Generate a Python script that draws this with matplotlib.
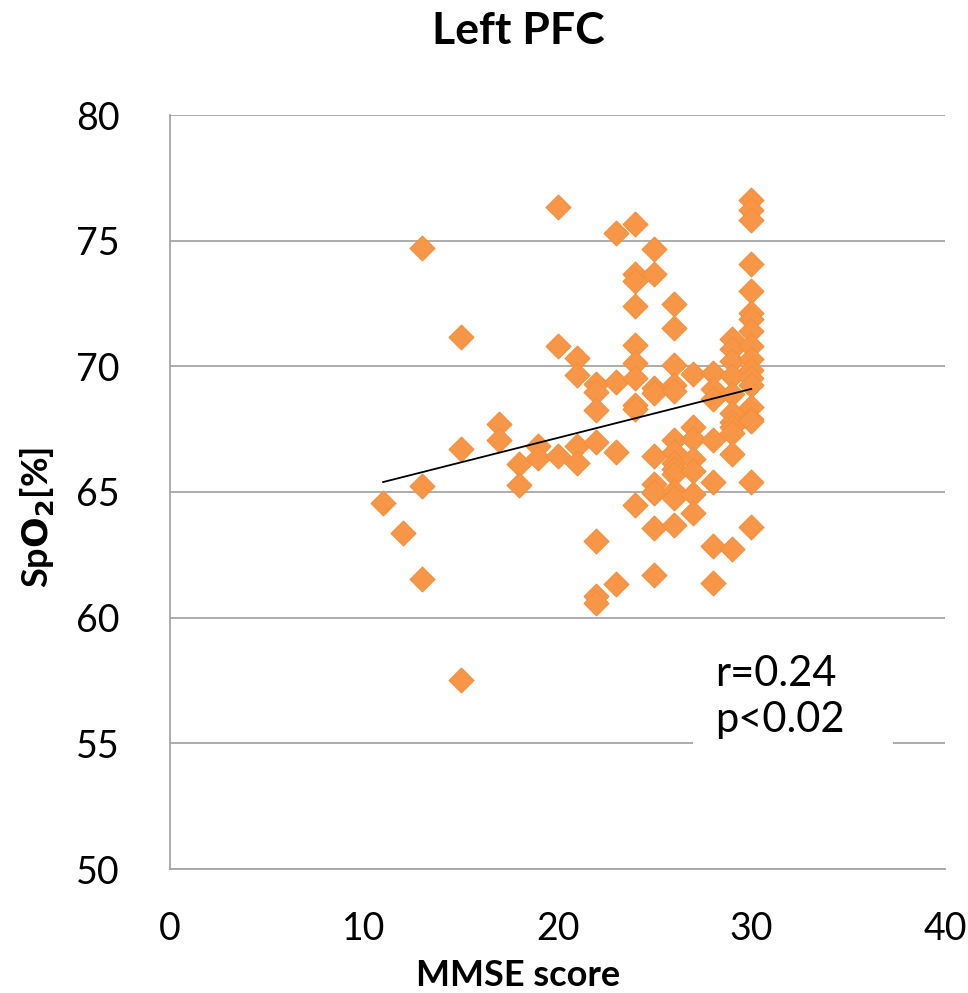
import matplotlib
matplotlib.use("Agg")
import matplotlib.pyplot as plt
from matplotlib.patches import Rectangle
import numpy as np

plt.rcParams['font.family'] = ['Lato', 'DejaVu Sans']

mmse = [11, 12,
        13, 13, 13,
        15, 15, 15,
        17, 17,
        18, 18,
        19, 19,
        20, 20, 20,
        21, 21, 21, 21,
        22, 22, 22, 22, 22, 22, 22,
        23, 23, 23, 23,
        24, 24, 24, 24, 24, 24, 24, 24, 24, 24,
        25, 25, 25, 25, 25, 25, 25, 25, 25, 25,
        26, 26, 26, 26, 26, 26, 26, 26, 26, 26, 26, 26, 26,
        27, 27, 27, 27, 27, 27, 27,
        28, 28, 28, 28, 28, 28, 28,
        29, 29, 29, 29, 29, 29, 29, 29, 29, 29, 29,
        30, 30, 30, 30, 30, 30, 30, 30, 30, 30, 30, 30, 30, 30, 30, 30, 30, 30]
spo2 = [64.55, 63.35,
        74.72, 65.22, 61.52,
        71.16, 66.70, 57.52,
        67.71, 67.06,
        66.11, 65.29,
        66.82, 66.36,
        76.35, 70.82, 66.43,
        70.32, 69.65, 66.82, 66.15,
        69.28, 68.97, 68.28, 66.97, 63.05, 60.88, 60.60,
        75.32, 69.38, 66.60, 61.32,
        75.66, 73.68, 73.39, 72.39, 70.86, 70.12, 69.52, 68.45, 68.32, 64.47,
        74.68, 73.68, 69.15, 68.92, 66.43, 65.31, 64.95, 63.55, 61.68, 65.0,
        72.50, 71.51, 70.04, 69.27, 69.0, 67.07, 66.59, 66.17, 65.90, 65.70, 65.04, 64.77, 63.67,
        69.68, 67.60, 67.10, 66.30, 65.84, 64.91, 64.15,
        69.75, 69.09, 68.69, 67.05, 65.40, 62.85, 61.39,
        71.07, 70.67, 70.21, 69.62, 68.89, 68.13, 67.79, 67.57, 67.34, 66.50, 62.72,
        76.60, 76.23, 75.83, 74.09, 72.99, 72.13, 71.89, 71.40, 70.81, 70.28, 69.85,
        69.55, 69.25, 68.40, 67.92, 65.41, 63.62, 67.82]

x_ticks = [0, 10, 20, 30, 40]
y_ticks = [50, 55, 60, 65, 70, 75, 80]
title = "Left PFC"
xlabel = "MMSE score"
ylabel = r"Sp$\mathbf{O_2}$[%]"
stats_text = "r=0.24\np<0.02"

fig = plt.figure(figsize=(9.68, 9.93), dpi=100)
ax = fig.add_axes([170/968, 1-869/993, (945-170)/968, (869-115)/993])

ax.set_xlim(x_ticks[0], x_ticks[-1])
ax.set_ylim(y_ticks[0], y_ticks[-1])
ax.set_xticks(x_ticks)
ax.set_yticks(y_ticks)
ax.yaxis.grid(True, color='#a6a6a6', linewidth=1.3)
ax.set_axisbelow(True)
for s in ['top', 'right']:
    ax.spines[s].set_visible(False)
for s in ['left', 'bottom']:
    ax.spines[s].set_color('#a6a6a6')
    ax.spines[s].set_linewidth(1.3)
ax.tick_params(length=0, labelsize=27)
ax.tick_params(axis='y', pad=36)
ax.tick_params(axis='x', pad=30)

ax.scatter(mmse, spo2, marker='D', s=160, color='#f79646', edgecolors='#f58f3a',
           linewidths=0.8, zorder=3)

x = np.array(mmse, dtype=float)
y = np.array(spo2, dtype=float)
k, b = np.polyfit(x, y, 1)
xs = np.array([x.min(), x.max()])
ax.plot(xs, k*xs + b, color='black', linewidth=1.3, zorder=4)

ax.add_patch(Rectangle((0.675, 0.15), 0.258, 0.15, transform=ax.transAxes,
                       facecolor='white', edgecolor='none', zorder=5))
ax.text(0.703, 0.228, stats_text, transform=ax.transAxes, fontsize=30,
        ha='left', va='center', linespacing=1.25, zorder=6)

fig.text(518/968, 0.969, title, ha='center', va='center', fontsize=32, fontweight='bold')
ax.set_xlabel(xlabel, fontsize=26, fontweight='bold')
ax.xaxis.set_label_coords((518-170)/775, -0.141)
ax.xaxis.label.set_va('center')
ax.set_ylabel(ylabel, fontsize=26, fontweight='bold')
ax.yaxis.set_label_coords(-0.172, 0.467)
ax.yaxis.label.set_va('center')

fig.savefig("out.png", dpi=100)
